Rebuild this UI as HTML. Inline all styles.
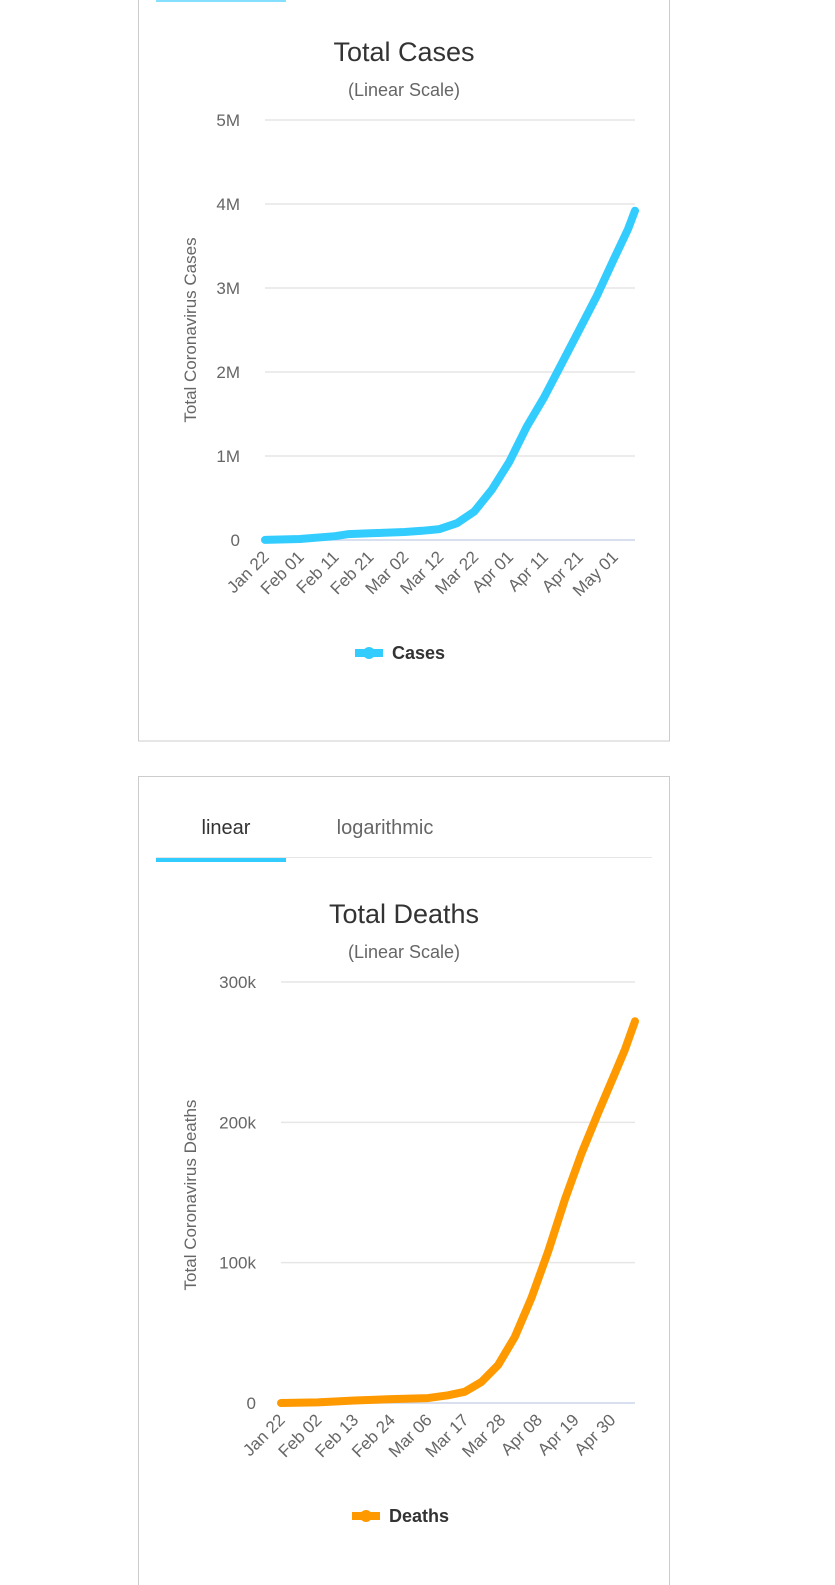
<!DOCTYPE html>
<html><head><meta charset="utf-8"><style>
html,body{margin:0;background:#fff;font-family:"Liberation Sans",sans-serif;overflow:hidden;width:835px;height:1585px;}
svg{display:block;}
svg text{font-family:"Liberation Sans",sans-serif;}
</style></head><body>
<svg width="835" height="1585" viewBox="0 0 835 1585" xmlns="http://www.w3.org/2000/svg">
<rect x="138.5" y="-10" width="531" height="751" fill="#fff" stroke="#ccc"/>
<rect x="156" y="-2" width="130" height="4" fill="#33ccff" opacity="0.6"/>
<text x="404" y="61" text-anchor="middle" font-size="27" fill="#333">Total Cases</text>
<text x="404" y="96" text-anchor="middle" font-size="18" fill="#666">(Linear Scale)</text>
<g id="c1"></g>
<rect x="138.5" y="776.5" width="531" height="820" fill="#fff" stroke="#ccc"/>
<text x="226" y="834" text-anchor="middle" font-size="20" fill="#333">linear</text>
<text x="385" y="834" text-anchor="middle" font-size="20" fill="#666">logarithmic</text>
<rect x="156" y="857" width="496" height="1" fill="#e6e6e6"/>
<rect x="156" y="858" width="130" height="4" fill="#33ccff"/>
<text x="404" y="923" text-anchor="middle" font-size="27" fill="#333">Total Deaths</text>
<text x="404" y="958" text-anchor="middle" font-size="18" fill="#666">(Linear Scale)</text>
<g id="c2"></g>
</svg>
<script>
// Cases (millions), day offsets from Jan 22
const casesDays = [0,10,20,24,30,40,45,50,55,60,65,70,75,80,85,90,95,100,104,106];
const casesVals = [0.0006,0.012,0.045,0.07,0.08,0.095,0.11,0.13,0.2,0.34,0.6,0.93,1.35,1.7,2.1,2.5,2.9,3.35,3.7,3.92];
const casesTicks = [0,1,2,3,4,5];
const casesTickLabels = ["0","1M","2M","3M","4M","5M"];
const casesXLabels = ["Jan 22","Feb 01","Feb 11","Feb 21","Mar 02","Mar 12","Mar 22","Apr 01","Apr 11","Apr 21","May 01"];
const casesXStep = 10;
// Deaths (thousands)
const deathsDays = [0,11,22,33,44,50,55,60,65,70,75,80,85,90,95,100,103,106];
const deathsVals = [0.017,0.4,1.8,2.8,3.5,5.5,8,15,27,47,75,108,145,178,207,235,252,272];
const deathsTicks = [0,100,200,300];
const deathsTickLabels = ["0","100k","200k","300k"];
const deathsXLabels = ["Jan 22","Feb 02","Feb 13","Feb 24","Mar 06","Mar 17","Mar 28","Apr 08","Apr 19","Apr 30"];
const deathsXStep = 11;

const NS="http://www.w3.org/2000/svg";
function mk(tag,attrs,parent,txt){const e=document.createElementNS(NS,tag);for(const k in attrs)e.setAttribute(k,attrs[k]);if(txt!==undefined)e.textContent=txt;parent.appendChild(e);return e;}

function draw(g,o){
  const x=d=>o.x0+(d/o.maxDay)*(o.x1-o.x0);
  const y=v=>o.y0-(v/o.maxV)*(o.y0-o.y1);
  o.ticks.forEach((t,i)=>{
    const ln=mk('line',{x1:o.gx,x2:o.x1,y1:y(t),y2:y(t),stroke:i===0?'#ccd6eb':'#e6e6e6','stroke-width':1.5},g);
    
    
    const tx=mk('text',{x:o.lx,y:y(t)+6,'text-anchor':'end','font-size':17,fill:'#666'},g,o.tickLabels[i]);
    
    
  });
  o.xLabels.forEach((l,i)=>{
    const xx=x(i*o.xStep)+5, yy=o.y0+18;
    const tx=mk('text',{x:xx,y:yy,'text-anchor':'end','font-size':17,fill:'#666',transform:`rotate(-45 ${xx} ${yy})`},g,l);
    
    
  });
  const yt=mk('text',{x:o.tx,y:o.ty,'text-anchor':'middle','font-size':17,fill:'#666',transform:`rotate(-90 ${o.tx} ${o.ty})`},g,o.title);
  
  
  const pts=o.days.map((d,i)=>x(d).toFixed(1)+','+y(o.vals[i]).toFixed(1)).join(' ');
  const pl=mk('polyline',{points:pts,fill:'none',stroke:o.color,'stroke-width':8,'stroke-linejoin':'round','stroke-linecap':'round'},g);
  
  
  const li=mk('g',{},g);
  
  
  mk('rect',{x:o.legX,y:o.legY-4,width:28,height:8,fill:o.color},li);
  mk('circle',{cx:o.legX+14,cy:o.legY,r:6,fill:o.color},li);
  mk('text',{x:o.legX+37,y:o.legY+6,'font-size':18,'font-weight':'bold',fill:'#333'},li,o.name);
}
draw(document.getElementById('c1'),{x0:265,x1:635,maxDay:106,y0:540,y1:120,maxV:5,gx:265,lx:240,
 ticks:casesTicks,tickLabels:casesTickLabels,xLabels:casesXLabels,xStep:casesXStep,days:casesDays,vals:casesVals,
 color:'#33ccff',title:'Total Coronavirus Cases',tx:196,ty:330,legX:355,legY:653,name:'Cases'});
draw(document.getElementById('c2'),{x0:281,x1:635,maxDay:106,y0:1403,y1:982,maxV:300,gx:281,lx:256,
 ticks:deathsTicks,tickLabels:deathsTickLabels,xLabels:deathsXLabels,xStep:deathsXStep,days:deathsDays,vals:deathsVals,
 color:'#ff9900',title:'Total Coronavirus Deaths',tx:196,ty:1195,legX:352,legY:1516,name:'Deaths'});
</script>
</body></html>
